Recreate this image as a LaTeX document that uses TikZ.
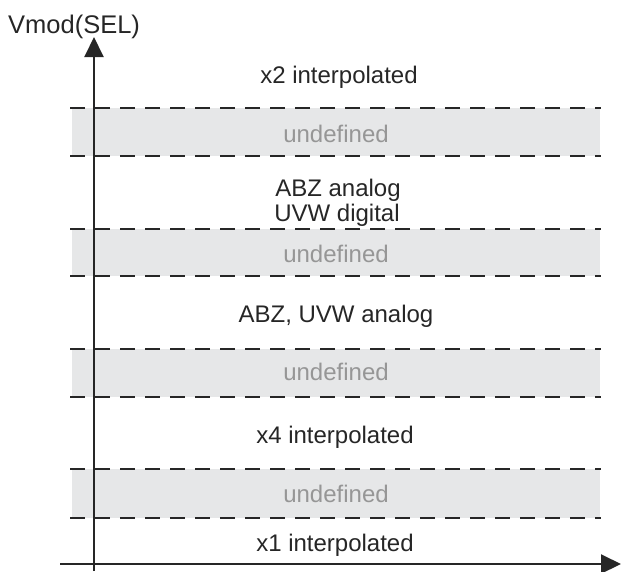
\documentclass[tikz,border=0pt]{standalone}
\usepackage{fontspec}
\setmainfont{Liberation Sans}
\usepackage{tikz}
\usetikzlibrary {arrows.meta,positioning}

\definecolor{bandgray}{RGB}{230,231,232}
\definecolor{undefgray}{RGB}{150,150,150}

\begin{document}
\begin{tikzpicture}[x=1pt,y=-1pt,
    axis/.style={line width=2pt,black!85,-{Triangle[length=20pt,width=19pt]}},
    level/.style={line width=2pt,black!85,dash pattern=on 15pt off 10pt},
    band/.style={fill=bandgray,draw=none},
    label/.style={font=\fontsize{24}{28}\selectfont,text=black!85,inner sep=0pt,anchor=base},
    undef/.style={label,text=undefgray},
   ]
    \useasboundingbox (0,0) rectangle (621,571);

    % grey bands between the levels
    \fill[band] (72,108) rectangle (600,156);
    \fill[band] (72,229) rectangle (600,276);
    \fill[band] (72,349) rectangle (600,397);
    \fill[band] (72,469) rectangle (600,518);

    \coordinate (l1a) at (70,108); \coordinate (l1b) at (601,108);
    \coordinate (l2a) at (70,156); \coordinate (l2b) at (601,156);
    \coordinate (l3a) at (70,229); \coordinate (l3b) at (601,229);
    \coordinate (l4a) at (70,276); \coordinate (l4b) at (601,276);
    \coordinate (l5a) at (70,349); \coordinate (l5b) at (601,349);
    \coordinate (l6a) at (70,397); \coordinate (l6b) at (601,397);
    \coordinate (l7a) at (70,469); \coordinate (l7b) at (601,469);
    \coordinate (l8a) at (70,518); \coordinate (l8b) at (601,518);

    \draw[level] (l1a) -- (l1b);
    \draw[level] (l2a) -- (l2b);
    \draw[level] (l3a) -- (l3b);
    \draw[level] (l4a) -- (l4b);
    \draw[level] (l5a) -- (l5b);
    \draw[level] (l6a) -- (l6b);
    \draw[level] (l7a) -- (l7b);
    \draw[level] (l8a) -- (l8b);

    \node (x2)   [label] at (339,83)  {x2 interpolated};
    \node (und1) [undef] at (336,142) {undefined};
    \node (abz)  [label] at (338,196) {ABZ analog};
    \node (uvw)  [label] at (337,221) {UVW digital};
    \node (und2) [undef] at (336,262) {undefined};
    \node (both) [label] at (336,322) {ABZ, UVW analog};
    \node (und3) [undef] at (336,380) {undefined};
    \node (x4)   [label] at (335,443) {x4 interpolated};
    \node (und4) [undef] at (336,502) {undefined};
    \node (x1)   [label] at (335,551) {x1 interpolated};

    \coordinate (origin) at (94,571);
    \coordinate (xstart) at (60,564);
    \coordinate (xend)   at (621,564);
    \coordinate (ytop)   at (94,37);

    \node (vmod) [label,anchor=base west,font=\fontsize{25.5}{30}\selectfont] at (8,33) {Vmod(SEL)};

    \draw[axis] (xstart) -- (xend);
    \draw[axis] (origin) -- (ytop);
   \end{tikzpicture}
\end{document}
